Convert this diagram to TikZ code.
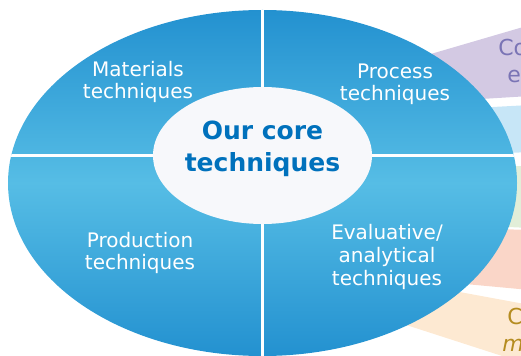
\documentclass[tikz,border=0pt]{standalone}
\usepackage{fontspec}
\setmainfont{DejaVu Sans}
\usepackage{tikz}
\usepackage{color}
\definecolor{coreblue}{RGB}{0,113,188}
\definecolor{ringdark}{RGB}{35,145,208}
\definecolor{ringlight}{RGB}{86,189,229}
\definecolor{coreface}{RGB}{247,248,251}
\definecolor{bandpurple}{RGB}{211,201,227}
\definecolor{bandblue}{RGB}{199,230,247}
\definecolor{bandgreen}{RGB}{226,238,216}
\definecolor{bandpink}{RGB}{250,214,200}
\definecolor{bandpeach}{RGB}{253,233,210}
\definecolor{textpurple}{RGB}{122,116,181}
\definecolor{textgold}{RGB}{181,140,32}

\tikzset{
  quarterlabel/.style={text=white, align=center, inner sep=0pt, font=\fontsize{15}{16.5}\selectfont},
  corelabel/.style={text=coreblue, align=center, inner sep=0pt, font=\fontsize{18.75}{24}\selectfont\bfseries},
  bandtext/.style={anchor=base west, inner sep=0pt, font=\fontsize{16.5}{18}\selectfont},
  divider/.style={white, line width=2.25pt}
}

\begin{document}
\begin{tikzpicture}[x=0.75pt,y=0.75pt,yscale=-1,xscale=1]
\clip (0,0) rectangle (521,356);

%Shape: Polygon [bands behind the ring]
\fill[bandpurple] (400,63) -- (530,25) -- (530,96) -- (400,104) -- cycle;
%Shape: Polygon
\fill[bandblue] (400,112) -- (530,105) -- (530,152) -- (400,158) -- cycle;
%Shape: Polygon
\fill[bandgreen] (400,168) -- (530,166) -- (530,228) -- (400,222) -- cycle;
%Shape: Polygon
\fill[bandpink] (400,226) -- (530,230) -- (530,290) -- (400,278) -- cycle;
%Shape: Polygon
\fill[bandpeach] (400,281) -- (530,305) -- (530,365) -- (400,323) -- cycle;

%Shape: Ellipse [outer ring]
\shade[top color=ringdark, bottom color=ringdark, middle color=ringlight] (262.5,183) ellipse (190.875pt and 129.75pt);

%Straight Lines [quarter dividers]
\begin{scope}
\clip (262.5,183) ellipse (190.875pt and 129.75pt);
\draw[divider] (262.5,0) -- (262.5,356);
\draw[divider] (0,156) -- (521,156);
\end{scope}

%Shape: Ellipse [core]
\fill[coreface] (262.5,155.5) ellipse (82.125pt and 51.375pt);

% Text Node
\node[quarterlabel] (materials) at (138,81.5) {Materials\\techniques};
% Text Node
\node[quarterlabel] (process) at (395,84.5) {Process\\techniques};
% Text Node
\node[quarterlabel] (production) at (140,252.5) {Production\\techniques};
% Text Node
\node[quarterlabel, font=\fontsize{15}{17.25}\selectfont] (evaluative) at (387,256.5) {Evaluative/\\analytical\\techniques};
% Text Node
\node[corelabel] (core) at (262.5,149) {Our core\\techniques};

% Text Node
\node[bandtext, text=textpurple] (bandco) at (498,56) {Co};
% Text Node
\node[bandtext, text=textpurple] (bande) at (507,83) {e};
% Text Node
\node[bandtext, text=textgold] (bandc) at (507,324) {C};
% Text Node
\node[bandtext, text=textgold, font=\fontsize{16.5}{18}\selectfont\itshape] (bandm) at (502,351) {m};

\end{tikzpicture}
\end{document}
